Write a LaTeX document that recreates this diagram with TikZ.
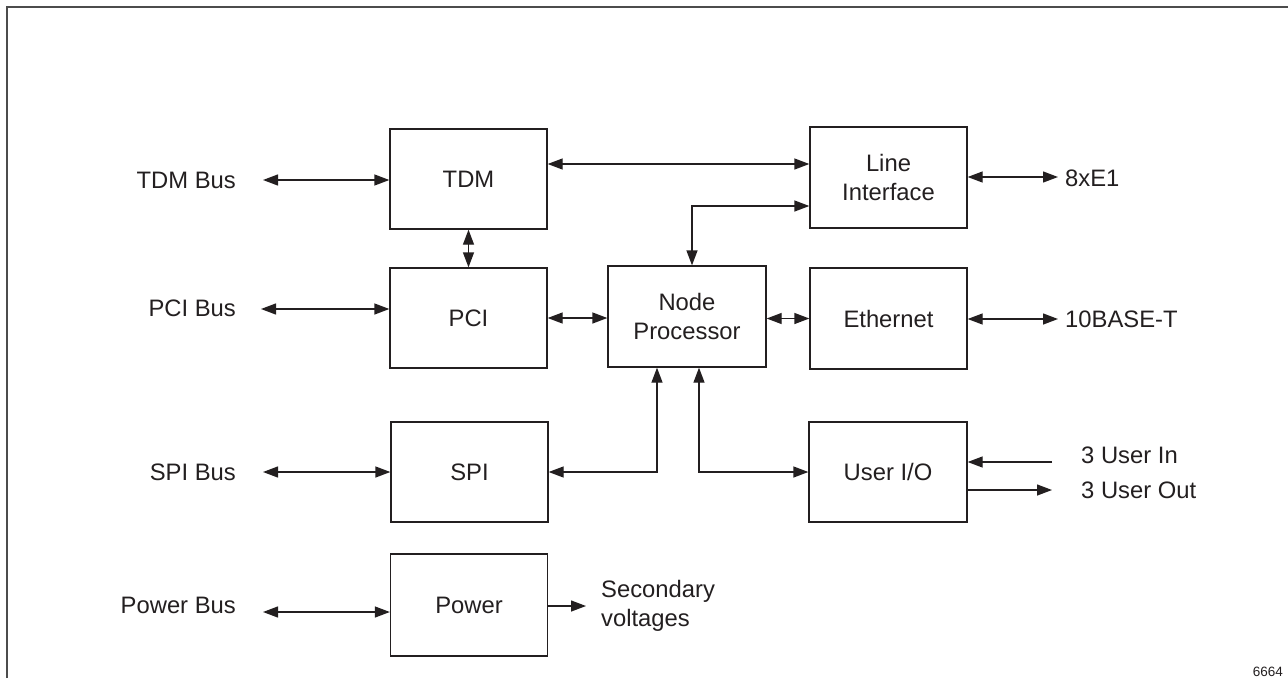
\documentclass[tikz,border=0pt]{standalone}
\usepackage{fontspec}
\setmainfont{Liberation Sans}
\usetikzlibrary{arrows.meta}
\definecolor{ink}{HTML}{231F20}
\tikzset{
  blk/.style={draw=ink, line width=1.3pt, minimum width=157pt, minimum height=100pt, inner sep=0pt, align=center, text=ink, font=\fontsize{23.8}{28.5}\selectfont},
  lbl/.style={inner sep=0pt, text=ink, font=\fontsize{23.8}{28.5}\selectfont},
  conn/.style={draw=ink, line width=1.3pt},
  bi/.style={conn, {Triangle[length=15pt,width=11pt]}-{Triangle[length=15pt,width=11pt]}},
  uni/.style={conn, -{Triangle[length=15pt,width=11pt]}},
}
\begin{document}
\begin{tikzpicture}[x=1pt,y=-1pt]
\useasboundingbox (0,0) rectangle (1288,678);
% frame
\draw[color=black!70, line width=2pt] (7,678) -- (7,7) -- (1288,7);

% blocks
\node[blk] (tdm) at (468.5,179) {TDM};
\node[blk] (pci) at (468.5,318) {PCI};
\node[blk] (spi) at (469.5,472) {SPI};
\node[blk, minimum height=102pt] (pow) at (469,605) {Power};
\node[blk, minimum height=101pt] (li) at (888.5,177.5) {Line\\Interface};
\node[blk, minimum height=101pt] (eth) at (888.5,318.5) {Ethernet};
\node[blk, minimum width=158pt] (uio) at (888,472) {User I/O};
\node[blk, minimum width=158pt, minimum height=101pt] (np) at (687,316.5) {Node\\Processor};

% labels
\node[lbl, anchor=east] (tdmbus) at (236,180) {TDM Bus};
\node[lbl, anchor=east] (pcibus) at (236,308) {PCI Bus};
\node[lbl, anchor=east] (spibus) at (236,472) {SPI Bus};
\node[lbl, anchor=east] (powbus) at (236,605) {Power Bus};
\node[lbl, anchor=west] (e1) at (1065,178) {8xE1};
\node[lbl, anchor=west] (ten) at (1065,319) {10BASE-T};
\node[lbl, anchor=west] (uin) at (1081,455) {3 User In};
\node[lbl, anchor=west] (uout) at (1081,490) {3 User Out};
\node[lbl, anchor=west, align=left] (sec) at (601,606) {Secondary\\voltages};
\node[inner sep=0pt, text=ink, font=\fontsize{13.5}{16}\selectfont, anchor=base east] (fig) at (1283,676) {6664};

% free ends
\coordinate (tdmbusE) at (263,180);
\coordinate (pcibusE) at (261,309);
\coordinate (spibusE) at (263,472);
\coordinate (powbusE) at (263,612);
\coordinate (e1E) at (1058,177);
\coordinate (tenE) at (1058,319);
\coordinate (uinE) at (1052,462);
\coordinate (uoutE) at (1052,490);
\coordinate (secE) at (586,606);

% bus connectors
\draw[bi] (tdmbusE) -- (tdmbusE -| tdm.west);
\draw[bi] (pcibusE) -- (pcibusE -| pci.west);
\draw[bi] (spibusE) -- (spibusE -| spi.west);
\draw[bi] (powbusE) -- (powbusE -| pow.west);
\draw[bi] (li.east |- e1E) -- (e1E);
\draw[bi] (eth.east |- tenE) -- (tenE);
\draw[uni] (uinE) -- (uinE -| uio.east);
\draw[uni] (uio.east |- uoutE) -- (uoutE);
\draw[uni] (pow.east |- secE) -- (secE);

% internal connectors
\draw[bi] ([yshift=15pt]tdm.east) -- ([yshift=13.5pt]li.west);
\draw[bi] (tdm.south) -- (pci.north);
\draw[bi] (pci.east) -- (pci.east -| np.west);
\draw[bi] (np.east |- eth.west) -- (eth.west);
\draw[bi] ([xshift=5pt]np.north) |- ([yshift=-28.5pt]li.west);
\draw[bi] (spi.east) -| ([xshift=-30pt]np.south);
\draw[bi] ([xshift=12pt]np.south) |- (uio.west);
\end{tikzpicture}
\end{document}
